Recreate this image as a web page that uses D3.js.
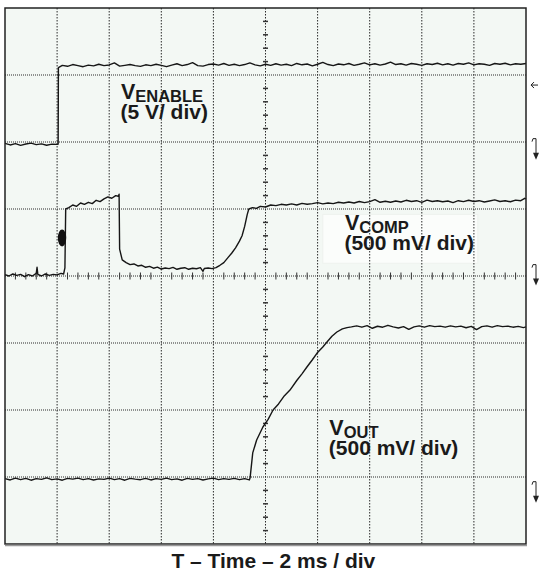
<!DOCTYPE html>
<html>
<head>
<meta charset="utf-8">
<script src="https://cdn.jsdelivr.net/npm/d3@7"></script>
<style>
    body { margin: 0; background: #ffffff; }
    text { font-family: "Liberation Sans", Arial, sans-serif; font-weight: bold; fill: #1a1a1a; }
</style>
</head>
<body>
<div id="scope"></div>
<script>
// time axis: 10 divisions, 2 ms / div
let timeTicks = d3.range(0, 21, 2);
let divTicks = d3.range(0, 9);

// channel settings (volts per division, ground level in divisions from bottom)
let channelNames = ["ENABLE", "COMP", "OUT"];
let channelUnits = ["(5 V/ div)", "(500 mV/ div)", "(500 mV/ div)"];
let channelScale = [5, 0.5, 0.5];
let channelGround = [6, 4, 1];

// V_ENABLE trace [ms, V]
let enableData = [
    [0, -0.10], [0.2, -0.22], [0.4, -0.12], [0.6, -0.25], [0.8, -0.15], [1.0, -0.08], [1.2, -0.2], [1.4, -0.14],
    [1.6, -0.24], [1.8, -0.16], [2.0, -0.18], [2.04, -0.16], [2.05, 5.55], [2.2, 5.72], [2.4, 5.65], [2.6, 5.78],
    [2.8, 5.7], [3.0, 5.62], [3.2, 5.74], [3.4, 5.68], [3.6, 5.8], [3.8, 5.7], [4.0, 5.75], [4.2, 5.9], [4.4, 5.66],
    [4.6, 5.72], [4.8, 5.78], [5.0, 5.7], [5.2, 5.64], [5.4, 5.76], [5.6, 5.7], [5.8, 5.8], [6.0, 5.72], [6.2, 5.62],
    [6.4, 5.74], [6.6, 5.84], [6.8, 5.7], [7.0, 5.78], [7.2, 5.92], [7.4, 5.7], [7.6, 5.66], [7.8, 5.78], [8.0, 5.82],
    [8.2, 5.74], [8.4, 5.86], [8.6, 5.72], [8.8, 5.8], [9.0, 5.7], [9.2, 5.78], [9.4, 5.9], [9.6, 5.76], [9.8, 5.68],
    [10.0, 5.8], [10.2, 5.72], [10.4, 5.84], [10.6, 5.74], [10.8, 5.8], [11.0, 5.7], [11.2, 5.86], [11.4, 5.76],
    [11.6, 5.82], [11.8, 5.68], [12.0, 5.8], [12.2, 5.94], [12.4, 5.78], [12.6, 5.7], [12.8, 5.82], [13.0, 5.76],
    [13.2, 5.86], [13.4, 5.72], [13.6, 5.8], [13.8, 5.9], [14.0, 5.76], [14.2, 5.84], [14.4, 5.74], [14.6, 5.82],
    [14.8, 5.96], [15.0, 5.78], [15.2, 5.84], [15.4, 5.74], [15.6, 5.86], [15.8, 5.8], [16.0, 5.72], [16.2, 5.84],
    [16.4, 5.78], [16.6, 5.88], [16.8, 5.76], [17.0, 5.84], [17.2, 5.74], [17.4, 5.86], [17.6, 5.8], [17.8, 5.9],
    [18.0, 5.76], [18.2, 5.84], [18.4, 5.8], [18.6, 5.72], [18.8, 5.86], [19.0, 5.8], [19.2, 5.88], [19.4, 5.76],
    [19.6, 5.84], [19.8, 5.8], [20.0, 5.86]
];

// V_COMP trace [ms, V]
let compData = [
    [0, 0.01], [0.15, 0.0], [0.3, 0.015], [0.45, 0.005], [0.6, 0.012], [0.75, -0.005], [0.9, 0.01], [1.05, 0.0],
    [1.2, 0.02], [1.23, 0.065], [1.26, 0.012], [1.4, 0.0], [1.55, 0.015], [1.7, 0.005], [1.85, 0.012], [2.0, 0.008],
    [2.15, 0.02], [2.25, 0.015], [2.3, 0.06], [2.33, 0.5], [2.45, 0.51], [2.6, 0.53], [2.75, 0.52], [2.9, 0.545],
    [3.05, 0.535], [3.2, 0.55], [3.35, 0.54], [3.5, 0.565], [3.65, 0.555], [3.8, 0.575], [3.95, 0.59], [4.1, 0.58],
    [4.25, 0.6], [4.35, 0.595], [4.38, 0.61], [4.4, 0.2], [4.5, 0.12], [4.65, 0.1], [4.8, 0.085], [4.95, 0.09],
    [5.1, 0.075], [5.25, 0.08], [5.4, 0.065], [5.55, 0.072], [5.7, 0.058], [5.85, 0.066], [6.0, 0.052], [6.15, 0.06],
    [6.3, 0.055], [6.45, 0.064], [6.6, 0.05], [6.75, 0.058], [6.9, 0.062], [7.05, 0.05], [7.2, 0.058], [7.35, 0.054],
    [7.5, 0.062], [7.6, 0.035], [7.65, 0.056], [7.8, 0.06], [7.95, 0.055], [8.1, 0.062], [8.25, 0.08], [8.4, 0.1],
    [8.55, 0.135], [8.7, 0.17], [8.85, 0.21], [9.0, 0.26], [9.1, 0.3], [9.2, 0.37], [9.3, 0.46], [9.36, 0.5],
    [9.5, 0.51], [9.65, 0.505], [9.8, 0.52], [10.0, 0.515], [10.2, 0.53], [10.4, 0.525], [10.6, 0.535], [10.8, 0.53],
    [11.0, 0.538], [11.2, 0.53], [11.4, 0.542], [11.6, 0.535], [11.8, 0.54], [12.0, 0.548], [12.2, 0.538],
    [12.4, 0.545], [12.6, 0.54], [12.8, 0.55], [13.0, 0.545], [13.2, 0.552], [13.4, 0.545], [13.6, 0.556],
    [13.8, 0.548], [14.0, 0.555], [14.2, 0.57], [14.4, 0.55], [14.6, 0.558], [14.8, 0.55], [15.0, 0.56],
    [15.2, 0.552], [15.4, 0.565], [15.6, 0.556], [15.8, 0.562], [16.0, 0.55], [16.2, 0.566], [16.4, 0.556],
    [16.6, 0.562], [16.8, 0.554], [17.0, 0.56], [17.2, 0.548], [17.4, 0.562], [17.6, 0.555], [17.8, 0.565],
    [18.0, 0.556], [18.2, 0.562], [18.4, 0.552], [18.6, 0.56], [18.8, 0.568], [19.0, 0.556], [19.2, 0.562],
    [19.4, 0.554], [19.6, 0.566], [19.8, 0.562], [19.95, 0.58], [20, 0.575]
];

// V_OUT trace [ms, V]
let outData = [
    [0, -0.012], [0.2, -0.022], [0.4, -0.008], [0.6, -0.02], [0.8, -0.01], [1.0, -0.024], [1.2, -0.012],
    [1.4, -0.018], [1.6, -0.006], [1.8, -0.02], [2.0, -0.014], [2.2, -0.024], [2.4, -0.01], [2.6, -0.016],
    [2.8, -0.008], [3.0, -0.02], [3.2, -0.012], [3.4, -0.022], [3.6, -0.014], [3.8, -0.018], [4.0, -0.008],
    [4.2, -0.02], [4.4, -0.012], [4.6, -0.024], [4.8, -0.01], [5.0, -0.016], [5.2, -0.02], [5.4, -0.01],
    [5.6, -0.022], [5.8, -0.012], [6.0, -0.018], [6.2, -0.008], [6.4, -0.02], [6.6, -0.014], [6.8, -0.024],
    [7.0, -0.01], [7.2, -0.018], [7.4, -0.012], [7.6, -0.022], [7.8, -0.014], [8.0, -0.008], [8.2, -0.02],
    [8.4, -0.012], [8.6, -0.018], [8.8, -0.01], [9.0, -0.02], [9.2, -0.012], [9.38, -0.022], [9.41, -0.005],
    [9.51, 0.18], [9.66, 0.276], [9.9, 0.373], [10.1, 0.43], [10.29, 0.5], [10.5, 0.545], [10.7, 0.6],
    [10.94, 0.649], [11.2, 0.72], [11.4, 0.77], [11.59, 0.821], [11.8, 0.875], [11.98, 0.925], [12.2, 0.97],
    [12.36, 1.007], [12.55, 1.05], [12.74, 1.082], [12.95, 1.105], [13.13, 1.115], [13.3, 1.12], [13.5, 1.128],
    [13.7, 1.118], [13.9, 1.13], [14.1, 1.11], [14.3, 1.125], [14.5, 1.118], [14.7, 1.132], [14.9, 1.12],
    [15.1, 1.112], [15.3, 1.122], [15.5, 1.102], [15.7, 1.12], [15.9, 1.128], [16.1, 1.118], [16.3, 1.13],
    [16.5, 1.122], [16.7, 1.126], [16.9, 1.118], [17.1, 1.128], [17.3, 1.12], [17.5, 1.126], [17.7, 1.114],
    [17.9, 1.124], [18.1, 1.1], [18.3, 1.122], [18.5, 1.128], [18.7, 1.118], [18.9, 1.13], [19.1, 1.122],
    [19.3, 1.126], [19.5, 1.118], [19.7, 1.124], [19.9, 1.115], [20, 1.12]
];

// intensified dot on the V_COMP edge [ms, V]
let compBlob = [2.19, 0.284];

class ScopeVis {
    constructor(_parentElement) {
        this.parentElement = _parentElement;
        this.traces = [enableData, compData, outData];
        this.initVis();
    }

    initVis() {
        let vis = this;

        vis.margin = { top: 8, right: 14, bottom: 27, left: 5 };
        vis.width = 540 - vis.margin.left - vis.margin.right;
        vis.height = 571 - vis.margin.top - vis.margin.bottom;

        vis.svg = d3.select("#" + vis.parentElement).append("svg")
            .attr("width", 540)
            .attr("height", 571)
            .append("g")
            .attr("transform", "translate(" + vis.margin.left + "," + vis.margin.top + ")");

        // scales: ms across, divisions up
        vis.x = d3.scaleLinear().domain([0, 20]).range([0, vis.width]);
        vis.y = d3.scaleLinear().domain([0, 8]).range([vis.height, 0]);

        vis.line = d3.line()
            .x(d => vis.x(d[0]))
            .y(d => vis.y(d[1]));

        vis.wrangleData();
    }

    wrangleData() {
        let vis = this;

        // volts -> screen divisions for each channel
        vis.displayData = vis.traces.map((tr, i) =>
            tr.map(d => [d[0], channelGround[i] + d[1] / channelScale[i]]));

        vis.updateVis();
    }

    updateVis() {
        let vis = this;

        // screen background
        vis.svg.append("rect")
            .attr("width", vis.width)
            .attr("height", vis.height)
            .attr("fill", "#f3f8f4");

        // faint box behind the V_COMP label
        vis.svg.append("rect")
            .attr("x", vis.x(12.2))
            .attr("y", vis.y(4.92))
            .attr("width", vis.x(18.15) - vis.x(12.2))
            .attr("height", vis.y(4.19) - vis.y(4.92))
            .attr("fill", "#fbfdfb")
            .attr("stroke", "#eef2ee");

        // grid (dotted)
        vis.svg.selectAll(".vgrid")
            .data(timeTicks.slice(1, -1).filter(d => d !== 10))
            .enter().append("line")
            .attr("x1", d => vis.x(d)).attr("x2", d => vis.x(d))
            .attr("y1", 0).attr("y2", vis.height)
            .attr("stroke", "#2a2a2a").attr("stroke-width", 1).attr("stroke-dasharray", "1.5,1.5");

        vis.svg.selectAll(".hgrid")
            .data(divTicks.slice(1, -1).filter(d => d !== 4))
            .enter().append("line")
            .attr("x1", 0).attr("x2", vis.width)
            .attr("y1", d => vis.y(d)).attr("y2", d => vis.y(d))
            .attr("stroke", "#2a2a2a").attr("stroke-width", 1).attr("stroke-dasharray", "1,1");

        // centre axes with minor ticks
        vis.svg.append("line")
            .attr("x1", 0).attr("x2", vis.width)
            .attr("y1", vis.y(4)).attr("y2", vis.y(4))
            .attr("stroke", "#2a2a2a").attr("stroke-dasharray", "1,1");
        vis.svg.append("line")
            .attr("x1", vis.x(10)).attr("x2", vis.x(10))
            .attr("y1", 0).attr("y2", vis.height)
            .attr("stroke", "#2a2a2a").attr("stroke-dasharray", "1.5,1.5");

        vis.svg.selectAll(".xminor")
            .data(d3.range(0, 50).filter(d => d % 5 !== 0).map(d => d * 0.4))
            .enter().append("line")
            .attr("x1", d => vis.x(d)).attr("x2", d => vis.x(d))
            .attr("y1", vis.y(4) - 3.5).attr("y2", vis.y(4) + 3.5)
            .attr("stroke", "#333").attr("stroke-width", 1);

        vis.svg.selectAll(".yminor")
            .data(d3.range(0, 40).filter(d => d % 5 !== 0).map(d => d * 0.2))
            .enter().append("line")
            .attr("x1", vis.x(10) - 2.5).attr("x2", vis.x(10) + 2.5)
            .attr("y1", d => vis.y(d)).attr("y2", d => vis.y(d))
            .attr("stroke", "#333").attr("stroke-width", 1.5);

        // traces
        vis.svg.selectAll(".trace")
            .data(vis.displayData)
            .enter().append("path")
            .attr("class", "trace")
            .attr("d", vis.line)
            .attr("fill", "none")
            .attr("stroke", "#161616")
            .attr("stroke-width", 1.4)
            .attr("stroke-linejoin", "round");

        vis.svg.append("ellipse")
            .attr("cx", vis.x(compBlob[0]))
            .attr("cy", vis.y(channelGround[1] + compBlob[1] / channelScale[1]))
            .attr("rx", 4.2)
            .attr("ry", 8.5)
            .attr("fill", "#111");

        // frame
        vis.svg.append("rect")
            .attr("width", vis.width)
            .attr("height", vis.height)
            .attr("fill", "none")
            .attr("stroke", "#222")
            .attr("stroke-width", 1.5);
        vis.svg.append("line")
            .attr("x1", 0).attr("x2", vis.width + 1)
            .attr("y1", vis.height + 1.5).attr("y2", vis.height + 1.5)
            .attr("stroke", "#999").attr("stroke-width", 1.5);

        // channel labels: one text element each, subscript and unit line as tspans
        let labelPos = [[4.45, 6.64], [13.05, 4.68], [12.45, 1.63]];
        labelPos.forEach((p, i) => {
            let lx = vis.x(p[0]), ly = vis.y(p[1]);
            let t = vis.svg.append("text").attr("x", lx).attr("y", ly);
            t.append("tspan").style("font-size", "21.5px").text("V");
            t.append("tspan").attr("dy", 3).style("font-size", "16.5px").text(channelNames[i]);
            t.append("tspan").attr("x", lx - 0.5).attr("dy", 17).style("font-size", "21px").text(channelUnits[i]);
        });

        // channel reference markers on the right edge
        let markerDivs = [6.05, 4.17, 0.93];
        markerDivs.forEach(m => {
            let mx = vis.width + 10, my = vis.y(m);
            vis.svg.append("path")
                .attr("d", `M${mx - 4},${my + 3} L${mx - 3},${my} L${mx},${my} L${mx},${my + 16}`)
                .attr("fill", "none").attr("stroke", "#222").attr("stroke-width", 1);
            vis.svg.append("path")
                .attr("d", `M${mx - 3},${my + 14} L${mx + 3},${my + 14} L${mx},${my + 21} Z`)
                .attr("fill", "#222");
        });

        // trigger level marker
        let ty = vis.y(6.85), tx = vis.width + 5;
        vis.svg.append("path")
            .attr("d", `M${tx},${ty} L${tx + 7},${ty} M${tx + 3},${ty - 3} L${tx},${ty} L${tx + 3},${ty + 3} M${tx + 9},${ty - 5} L${tx + 11},${ty - 5} L${tx + 11},${ty + 6}`)
            .attr("fill", "none").attr("stroke", "#222").attr("stroke-width", 1);

        // time caption
        vis.svg.append("text")
            .attr("x", vis.x(10.3))
            .attr("y", vis.height + 24)
            .attr("text-anchor", "middle")
            .style("font-size", "21px")
            .text("T \u2013 Time \u2013 2 ms / div");
    }
}

new ScopeVis("scope");
</script>
</body>
</html>
